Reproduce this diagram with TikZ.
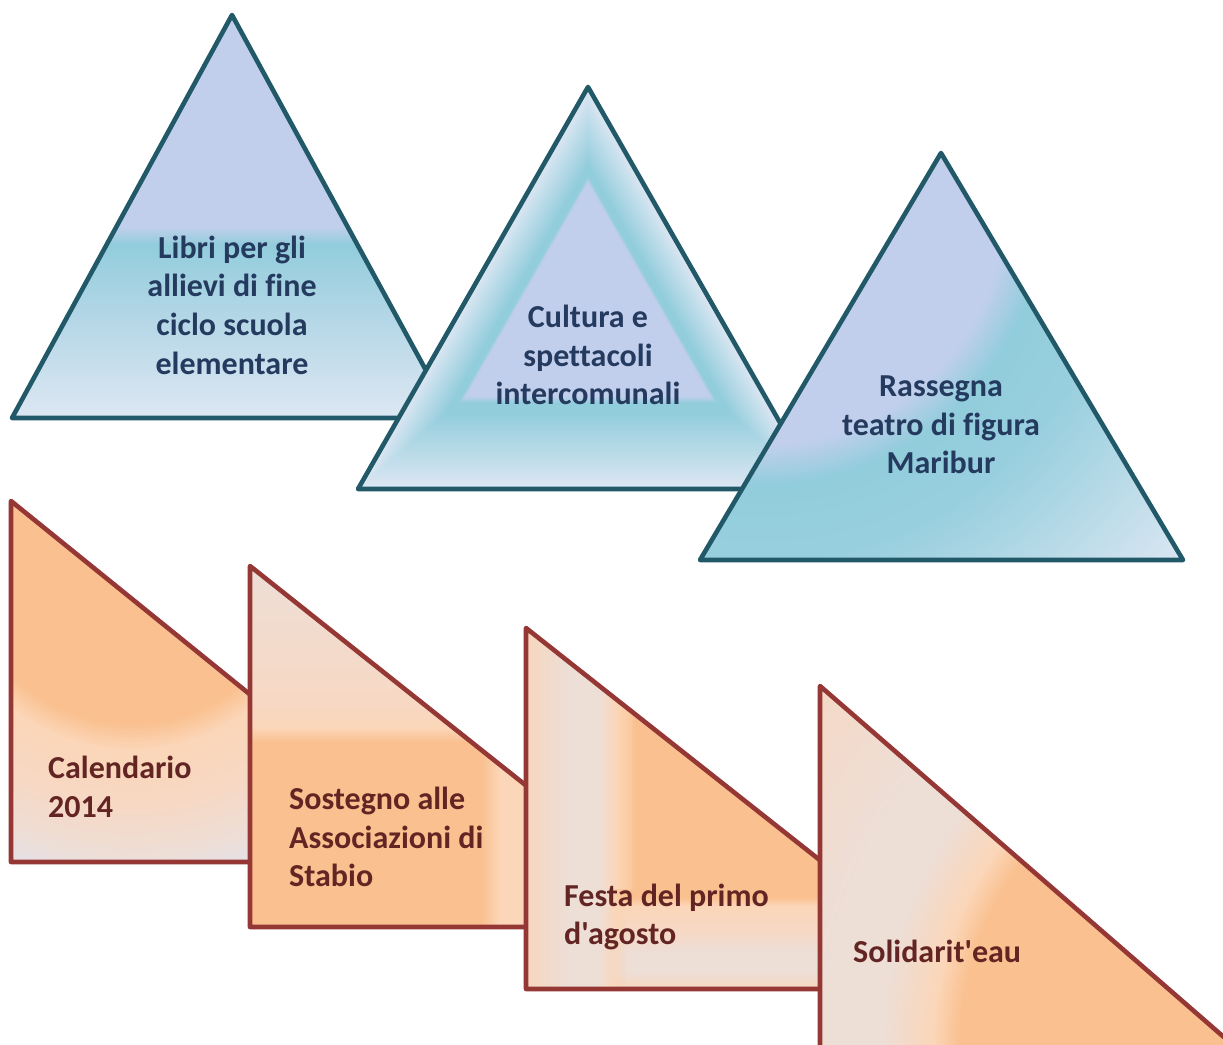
\documentclass[tikz,border=0pt]{standalone}
\usepackage{fontspec}
\setmainfont{Carlito}[Ligatures={TeXOff,NoCommon}]
\usetikzlibrary{fadings}

\definecolor{bline}{RGB}{33,89,104}
\definecolor{btext}{RGB}{36,58,94}
\definecolor{blav}{RGB}{194,207,236}
\definecolor{bteal}{RGB}{146,205,220}
\definecolor{bteal2}{RGB}{152,207,222}
\definecolor{blight}{RGB}{221,231,243}
\definecolor{bmid}{RGB}{178,214,230}
\definecolor{bmid2}{RGB}{172,214,228}
\definecolor{oline}{RGB}{149,55,53}
\definecolor{otext}{RGB}{99,37,35}
\definecolor{oor}{RGB}{250,192,143}
\definecolor{oormid}{RGB}{251,204,163}
\definecolor{opeach}{RGB}{251,214,184}
\definecolor{opeach2}{RGB}{247,216,196}
\definecolor{opeach3}{RGB}{247,214,190}
\definecolor{opink}{RGB}{237,222,214}
\definecolor{olav}{RGB}{226,225,238}

\pgfdeclareverticalshading{tonev}{100bp}{color(0bp)=(blight); color(25bp)=(blight); color(38bp)=(bmid); color(46.5bp)=(bteal); color(48.8bp)=(blav); color(100bp)=(blav)}
\pgfdeclareradialshading{tthreer}{\pgfpoint{0bp}{0bp}}{color(0bp)=(blav); color(10.9bp)=(blav); color(12.7bp)=(bteal); color(16.1bp)=(bteal2); color(18.75bp)=(bmid2); color(25bp)=(blight); color(50bp)=(blight)}
\pgfdeclareradialshading{oner}{\pgfpoint{0bp}{0bp}}{color(0bp)=(oor); color(11.7bp)=(oor); color(13.5bp)=(opeach); color(17.4bp)=(opeach2); color(20.8bp)=(opink); color(23.6bp)=(olav); color(50bp)=(olav)}
\pgfdeclareverticalshading{otwov}{100bp}{color(0bp)=(oor); color(50.6bp)=(oor); color(52.6bp)=(opeach); color(56.4bp)=(opeach2); color(75bp)=(opink); color(100bp)=(opink)}
\pgfdeclarehorizontalshading{otwob}{100bp}{color(0bp)=(oor); color(28bp)=(oor); color(46bp)=(opeach); color(100bp)=(opeach)}
\pgfdeclarehorizontalshading{othreeh}{100bp}{color(0bp)=(opeach3); color(25bp)=(opeach3); color(29.5bp)=(opink); color(33.1bp)=(opink); color(34.8bp)=(opeach); color(36.2bp)=(oormid); color(36.9bp)=(oor); color(100bp)=(oor)}
\pgfdeclareverticalshading{othreeb}{100bp}{color(0bp)=(opeach3); color(27.9bp)=(opeach3); color(36bp)=(opink); color(45.5bp)=(opink); color(56bp)=(opeach2); color(67.4bp)=(opeach); color(71.7bp)=(oor); color(100bp)=(oor)}
\pgfdeclareradialshading{ofourr}{\pgfpoint{0bp}{0bp}}{color(0bp)=(oor); color(13.25bp)=(oor); color(14.4bp)=(opeach); color(16.5bp)=(opink); color(19bp)=(opink); color(25bp)=(opeach2); color(50bp)=(opeach2)}

\tikzfading[name=fadein, left color=transparent!100, right color=transparent!0]

\tikzset{
  bedge/.style={draw=bline, line width=4.6pt, line join=round},
  oedge/.style={draw=oline, line width=4.6pt, line join=round},
  btxt/.style={text=btext, font=\fontsize{32}{38.7}\selectfont\bfseries, align=center, inner sep=0pt},
  otxt/.style={text=otext, font=\fontsize{32}{38.7}\selectfont\bfseries, align=left, inner sep=0pt, anchor=west}
}

\begin{document}
\begin{tikzpicture}[x=1pt,y=-1pt]
\useasboundingbox (0,0) rectangle (1223,1044);
\fill[white] (0,0) rectangle (1223,1044);
\clip (0,0) rectangle (1223,1044);

% ---- blue triangle 1
\shade[shading=tonev] (232,15) -- (12,418) -- (452,418) -- cycle;
\path[bedge] (232,15) -- (12,418) -- (452,418) -- cycle;

% ---- blue triangle 2 (shape gradient)
\foreach \i in {0,...,48}{
  \pgfmathsetmacro\s{1-0.01*\i}
  \pgfmathsetmacro\a{max(0,min(100,(\s-0.62)/0.38*100))}
  \pgfmathsetmacro\b{max(0,min(100,(0.57-\s)/0.035*100))}
  \colorlet{tmpA}{blight!\a!bteal}
  \colorlet{tmpB}{blav!\b!tmpA}
  \fill[tmpB, scale around={\s:(588,292)}] (588,87) -- (358,489) -- (818,489) -- cycle;
}
\path[bedge] (588,87) -- (358,489) -- (818,489) -- cycle;

% ---- blue triangle 3
\begin{scope}
\clip (941,153) -- (700,560) -- (1183,560) -- cycle;
\shade[shading=tthreer] (760,200) circle (560);
\end{scope}
\path[bedge] (941,153) -- (700,560) -- (1183,560) -- cycle;

% ---- orange 1
\begin{scope}
\clip (11,501) -- (11,862) -- (457,862) -- cycle;
\shade[shading=oner] (131,555) circle (360);
\end{scope}
\path[oedge] (11,501) -- (11,862) -- (457,862) -- cycle;

% ---- orange 2
\begin{scope}
\clip (250,566) -- (250,927) -- (704,927) -- cycle;
\shade[shading=otwov] (250,566) rectangle (704,927);
\shade[shading=otwob] (478,741) rectangle (530,932);
\end{scope}
\path[oedge] (250,566) -- (250,927) -- (704,927) -- cycle;

% ---- orange 3
\begin{scope}
\clip (526,628) -- (526,989) -- (983,989) -- cycle;
\shade[shading=othreeh] (526,628) rectangle (983,989);
\shade[shading=othreeb] (626,890) rectangle (990,995);
\shade[shading=othreeb, path fading=fadein] (608,890) rectangle (627,995);
\end{scope}
\path[oedge] (526,628) -- (526,989) -- (983,989) -- cycle;

% ---- orange 4
\begin{scope}
\clip (820,686) -- (820,1052) -- (1241,1052) -- cycle;
\shade[shading=ofourr] (1278,1050) circle (600);
\end{scope}
\path[oedge] (820,686) -- (820,1052) -- (1241,1052) -- cycle;

% ---- texts
\node[btxt] (t1) at (232,305) {Libri per gli\\allievi di fine\\ciclo scuola\\elementare};
\node[btxt] (t2) at (588,355) {Cultura e\\spettacoli\\intercomunali};
\node[btxt] (t3) at (941,425) {Rassegna\\teatro di figura\\Maribur};
\node[otxt] (o1) at (48,787) {Calendario\\2014};
\node[otxt] (o2) at (289,837) {Sostegno alle\\Associazioni di\\Stabio};
\node[otxt] (o3) at (564,917) {Festa del primo\\d'agosto};
\node[otxt] (o4) at (853,951) {Solidarit'eau};
\end{tikzpicture}
\end{document}
